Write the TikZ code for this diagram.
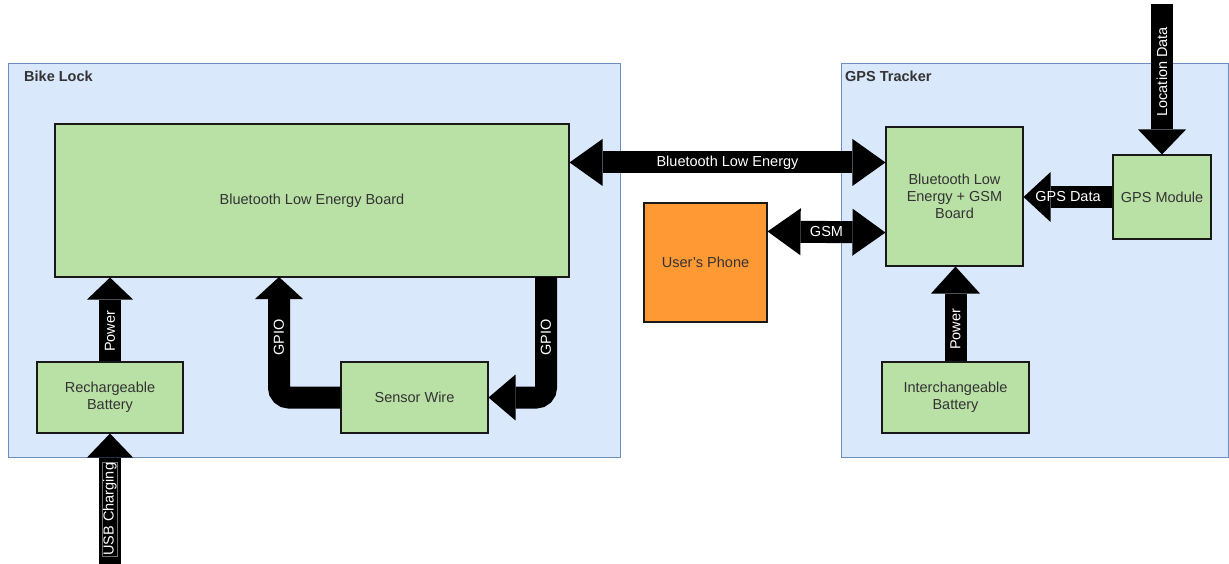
\documentclass[tikz,border=0pt]{standalone}
\usepackage{fontspec}
\setmainfont{Liberation Sans}
\usetikzlibrary{arrows.meta,calc}
\definecolor{contfill}{HTML}{DAE8FC}
\definecolor{contdraw}{HTML}{6C8EBF}
\definecolor{boxgreen}{HTML}{B9E0A5}
\definecolor{phoneorange}{HTML}{FF9933}
\definecolor{txt}{HTML}{333333}
\begin{document}
\begin{tikzpicture}[x=1pt,y=-1pt,
  font=\fontsize{14.5}{17}\selectfont,
  container/.style={draw=contdraw, fill=contfill, line width=1pt, inner sep=0pt},
  block/.style={draw=black!90, fill=boxgreen, line width=1.1pt, inner sep=0pt, text=txt, align=center},
  title/.style={font=\fontsize{14.5}{17}\selectfont\bfseries, text=txt, anchor=west, inner sep=0pt},
  onehead/.style 2 args={line width=22pt, draw=black, -{Triangle[width=#1,length=#2,line width=0pt]}},
  twohead/.style 2 args={line width=22pt, draw=black, {Triangle[width=#1,length=#2,line width=0pt]}-{Triangle[width=#1,length=#2,line width=0pt]}},
  lab/.style={text=white, inner sep=1pt},
  vlab/.style={lab, rotate=90},
  usblab/.style={vlab, draw=black!55, line width=0.6pt, inner sep=1pt}
]
\useasboundingbox (0,0) rectangle (1229,564);

% containers
\node[container, minimum width=612pt, minimum height=393pt] (lockbox) at (314,260.5) {};
\node[title] (locktitle) at (24,76) {Bike Lock};
\node[container, minimum width=387pt, minimum height=393pt] (gpsbox) at (1034.5,260.5) {};
\node[title] (gpstitle) at (845,76) {GPS Tracker};

% blocks
\node[block, minimum width=514pt, minimum height=153pt] (ble) at (312,200.5) {Bluetooth Low Energy Board};
\node[block, minimum width=146pt, minimum height=71pt] (rbat) at (110,397.5) {Rechargeable\\Battery};
\node[block, minimum width=147pt, minimum height=71pt] (sensor) at (414.5,397.5) {Sensor Wire};
\node[block, fill=phoneorange, minimum width=123pt, minimum height=119pt] (phone) at (705.5,262.5) {User's Phone};
\node[block, minimum width=137pt, minimum height=139pt] (blegsm) at (954.5,196.5) {Bluetooth Low\\Energy + GSM\\Board};
\node[block, minimum width=98pt, minimum height=84pt] (gpsmod) at (1162,197) {GPS Module};
\node[block, minimum width=147pt, minimum height=71pt] (ibat) at (955.5,397.5) {Interchangeable\\Battery};

% free ends / attachment points
\coordinate (usbin) at (110,564);
\coordinate (locin) at (1162,4);
\coordinate (gpiol) at (279,277);
\coordinate (gpior) at (546,277);

% connectors
\draw[onehead={46pt}{22pt}] (rbat.north) -- (rbat.north |- ble.south)
  node[vlab, pos=0.36] {Power};
\draw[onehead={46pt}{24pt}] (usbin) -- (rbat.south)
  node[usblab, pos=0.42] {USB Charging};
\draw[onehead={48pt}{22pt}, rounded corners=10pt] (sensor.west) -| (gpiol)
  node[vlab, pos=0.75] {GPIO};
\draw[onehead={46pt}{27pt}, rounded corners=10pt] (gpior) |- (sensor.east)
  node[vlab, pos=0.25] {GPIO};
\draw[twohead={47pt}{33pt}] ($(ble.north east)+(0,39)$) -- ($(blegsm.north west)+(0,36)$)
  node[lab, midway] {Bluetooth Low Energy};
\draw[twohead={47pt}{33pt}] ($(phone.north east)+(0,29)$) -- ($(blegsm.south west)+(0,-34)$)
  node[lab, midway] {GSM};
\draw[onehead={50pt}{27pt}] (gpsmod.west) -- (gpsmod.west -| blegsm.east)
  node[lab, midway] {GPS Data};
\draw[onehead={48pt}{25pt}] (locin) -- (gpsmod.north)
  node[vlab, pos=0.45] {Location Data};
\draw[onehead={49pt}{27pt}] (ibat.north) -- (ibat.north |- blegsm.south)
  node[vlab, pos=0.34] {Power};
\end{tikzpicture}
\end{document}
